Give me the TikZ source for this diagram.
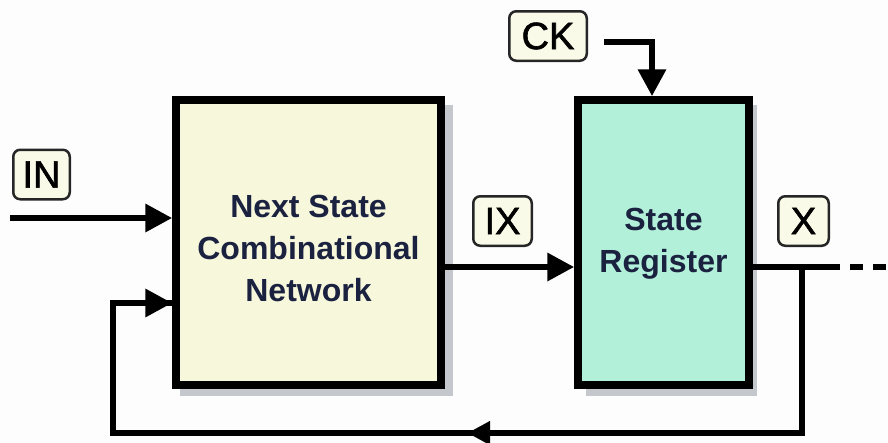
\documentclass[tikz,border=0pt]{standalone}
\usepackage{fontspec}
\setmainfont{Liberation Sans}
\newfontfamily\tagfont[FakeBold=1.6]{Liberation Sans}
\usetikzlibrary{arrows.meta}
\definecolor{bgc}{HTML}{FDFDFD}
\definecolor{yel}{HTML}{F7F7DC}
\definecolor{mint}{HTML}{B2F0DA}
\definecolor{lbl}{HTML}{FAFAE8}
\definecolor{shd}{HTML}{C4C8CC}
\definecolor{txt}{HTML}{1A2240}
\begin{document}
\begin{tikzpicture}[x=1pt,y=-1pt,
  blockbox/.style={draw=black, line width=7.5pt, minimum width=#1, minimum height=285pt,
    inner sep=0pt},
  blocktext/.style={inner sep=0pt, align=center, text=txt,
    font=\bfseries\fontsize{32}{42}\selectfont},
  tagbox/.style={draw=black!85, fill=lbl, line width=2.5pt, rounded corners=7pt,
    inner sep=0pt, minimum height=49.5pt, minimum width=#1,
    font=\tagfont\fontsize{38}{40}\selectfont},
  wire/.style={line width=6.5pt},
  arr/.style={wire, -{Triangle[length=27pt,width=27pt]}},
  midarr/.style={line width=0.1pt, -{Triangle[length=22pt,width=24pt]}}
]
\useasboundingbox (0,0) rectangle (888,442);
\fill[bgc] (0,0) rectangle (888,442);
% shadows
\fill[shd] (180,105) rectangle (453,396);
\fill[shd] (586,105) rectangle (757,396);
% blocks
\node[blockbox=265pt, fill=yel] (ns) at (308.5,242.5) {};
\node[blockbox=171pt, fill=mint] (sr) at (663.5,242.5) {};
\node[blocktext] (nst) at ([yshift=-6pt]ns.center) {Next State\\Combinational\\Network};
\node[blocktext] (srt) at ([yshift=-1pt]sr.center) {State\\Register};
% tags
\node[tagbox=56.5pt] (in) at (41.5,174.5) {IN};
\node[tagbox=58.5pt] (ix) at (502.5,221) {IX};
\node[tagbox=77.5pt] (ck) at (548,36) {CK};
\node[tagbox=50.5pt] (x) at (803.5,221) {X};
% coordinates
\coordinate (inS) at (10,218);
\coordinate (ixy) at (0,267);
\coordinate (ckS) at (604,42);
\coordinate (ckC) at (652,42);
\coordinate (jn) at (802,267);
\coordinate (oE) at (840,267);
\coordinate (dS) at (850,267);
\coordinate (dE) at (890,267);
\coordinate (fbR) at (802,433);
\coordinate (fbL) at (113,433);
\coordinate (fbU) at (113,303);
\coordinate (fbm1) at (495,433);
\coordinate (fbm2) at (468,433);
% connectors
\draw[arr] (inS) -- (inS -| ns.west);
\draw[arr] (ixy -| ns.east) -- (ixy -| sr.west);
\draw[wire] (ixy -| sr.east) -- (oE);
\draw[wire, dash pattern=on 13pt off 10pt] (dS) -- (dE);
\draw[arr] (ckS) -- (ckC) -- (ckC |- sr.north);
\draw[wire, line join=miter] (jn) -- (fbR) -- (fbL) -- (fbU) -- (fbU -| ns.west);
\draw[arr] (fbU) -- (fbU -| ns.west);
\draw[midarr] (fbm1) -- (fbm2);
\end{tikzpicture}
\end{document}
